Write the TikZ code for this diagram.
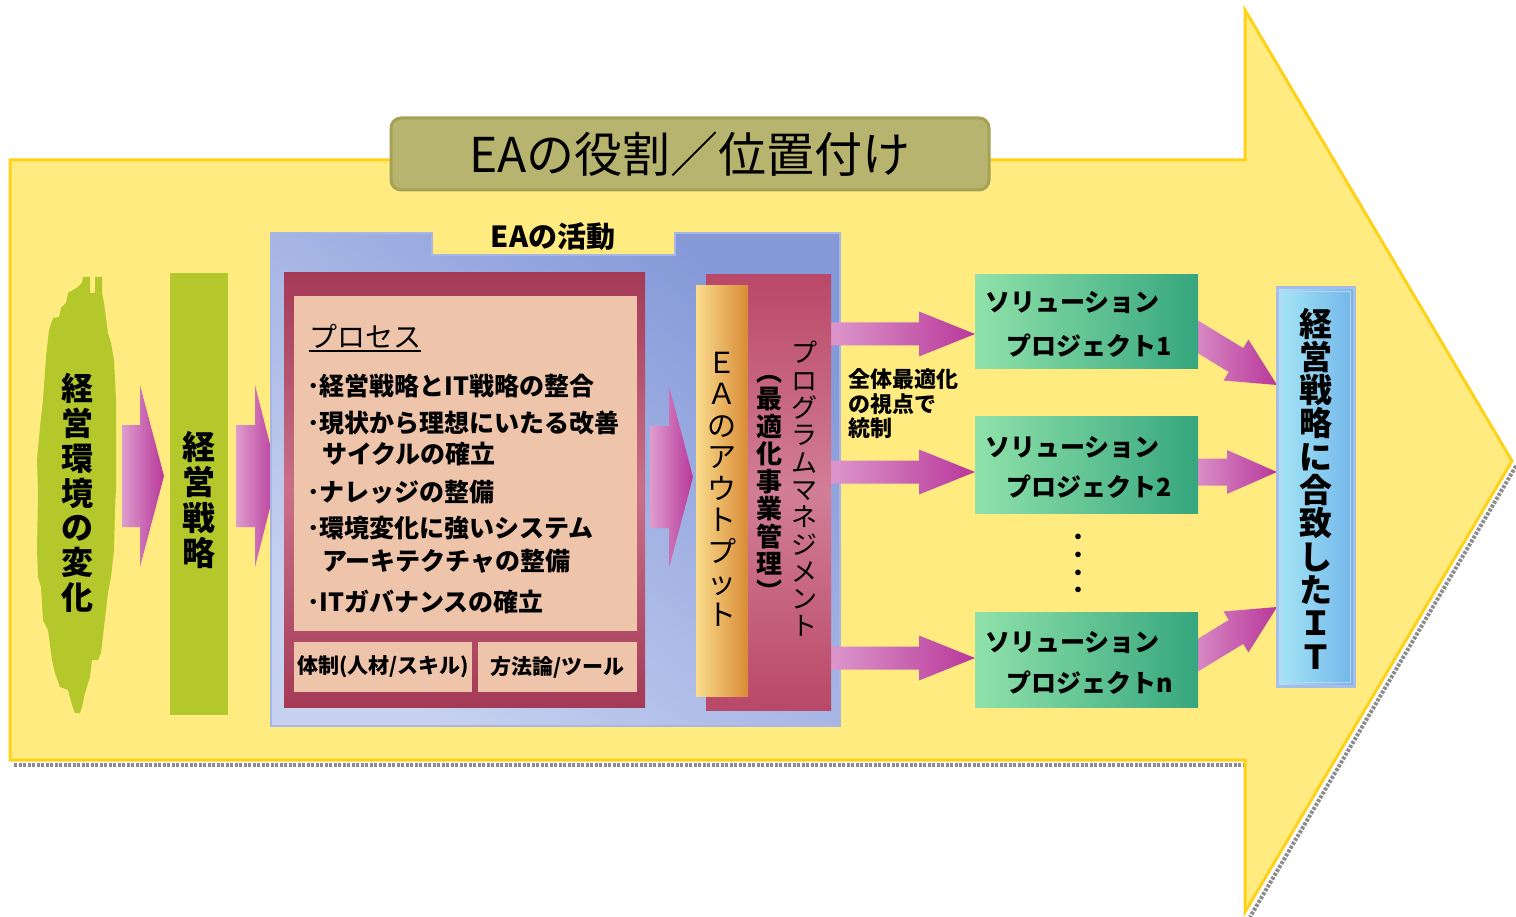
\documentclass[tikz,border=0pt]{standalone}
\usepackage{fontspec}
\setmainfont{Noto Sans CJK JP}
\usetikzlibrary{calc}
\definecolor{arrowfill}{HTML}{FFEB80}
\definecolor{arrowline}{HTML}{FFD21A}
\definecolor{titlefill}{HTML}{B7B46F}
\definecolor{titleline}{HTML}{A5A155}
\definecolor{leaf}{HTML}{B4C82B}
\definecolor{panelA}{HTML}{C7D2F0}
\definecolor{panelB}{HTML}{8599D9}
\definecolor{panelline}{HTML}{A8B6E6}
\definecolor{procA}{HTML}{A43A56}
\definecolor{procB}{HTML}{C97088}
\definecolor{peach}{HTML}{EEC4AA}
\definecolor{pmA}{HTML}{B94868}
\definecolor{pmB}{HTML}{D27E96}
\definecolor{eaL}{HTML}{F9DC8C}
\definecolor{eaR}{HTML}{D98A36}
\definecolor{solL}{HTML}{90E2AA}
\definecolor{solR}{HTML}{36A67E}
\definecolor{itL}{HTML}{A6E6F6}
\definecolor{itR}{HTML}{72B6EA}
\definecolor{itline}{HTML}{A8BCEA}
\definecolor{pkL}{HTML}{DE9CCE}
\definecolor{pkR}{HTML}{B8389A}
\definecolor{shadowgray}{HTML}{8C8C8C}

\newcommand\vfont[2]{\fontsize{#1}{#2}\selectfont\lineskiplimit=-60pt}
% block arrow: #1 from, #2 to, #3 body half width, #4 head half width, #5 head length
\newcommand\blockarr[5]{%
  \path let \p1=(#1), \p2=(#2) in \pgfextra{%
    \pgfmathsetmacro\baangtmp{atan2(\y2-\y1,\x2-\x1)}%
    \pgfmathsetmacro\balentmp{veclen(\x2-\x1,\y2-\y1)}%
    \xdef\baang{\baangtmp}\xdef\balen{\balentmp}\xdef\bax{\x1}\xdef\bay{\y1}};
  \begin{scope}[shift={(\bax,\bay)},rotate=\baang]
    \path[left color=pkL,right color=pkR]
      (0pt,-#3pt) -- ({\balen pt-#5pt},-#3pt) -- ({\balen pt-#5pt},-#4pt)
      -- (\balen pt,0pt) -- ({\balen pt-#5pt},#4pt) -- ({\balen pt-#5pt},#3pt)
      -- (0pt,#3pt) -- cycle;
  \end{scope}}

\begin{document}
\begin{tikzpicture}[x=1pt,y=-1pt,
  vt/.style={align=center,inner sep=0pt,text=black},
  lbl/.style={anchor=west,inner sep=0pt,text=black},
  solbox/.style={rectangle,minimum width=223pt,left color=solL,right color=solR,inner sep=0pt},
  soltxt/.style={lbl,font=\fontsize{25}{27}\selectfont\bfseries},
  proctxt/.style={lbl,font=\fontsize{25}{27}\selectfont\bfseries},
  toolbox/.style={rectangle,fill=peach,minimum height=50pt,inner sep=0pt,font=\fontsize{21}{23}\selectfont\bfseries}
]
\useasboundingbox (0,0) rectangle (1516,917);

% shadow of the big arrow
\draw[shadowgray,line width=4pt,dash pattern=on 3pt off 1.5pt] (14,765) -- (1247,765);
\draw[shadowgray,line width=4pt,dash pattern=on 3pt off 1.5pt] (1516,466) -- (1250,917);
% big arrow
\path[fill=arrowfill,draw=arrowline,line width=3pt,line join=miter]
  (10,160) -- (1245,160) -- (1245,10) -- (1512,461) -- (1245,912) -- (1245,760) -- (10,760) -- cycle;

% title banner
\node[rectangle,rounded corners=10pt,fill=titlefill,draw=titleline,line width=3pt,
  minimum width=598pt,minimum height=72pt,inner sep=0pt,
  font=\fontsize{48}{52}\selectfont] (title) at (690,154) {EAの役割／位置付け};

% green blob
\path[fill=leaf] (83,277) -- (90,277) -- (90,293) -- (95,293) -- (95,277) -- (102,277) -- (102,293)
  -- (104,303) -- (108,333) -- (111,343) -- (114,360) -- (116,400) -- (116,487) -- (115,510)
  -- (114,550) -- (111,577) -- (108,593) -- (104,627) -- (101,653) -- (98,660) -- (92,660)
  -- (90,677) -- (85,693) -- (82,707) -- (80,713) -- (75,713) -- (72,705) -- (68,690)
  -- (60,687) -- (55,673) -- (52,660) -- (48,630) -- (43,620) -- (41,587) -- (38,577)
  -- (37,550) -- (38,493) -- (37,460) -- (40,427) -- (43,400) -- (46,357) -- (49,330)
  -- (53,318) -- (59,317) -- (61,308) -- (66,303) -- (68,293) -- (73,290) -- (78,287)
  -- (82,283) -- cycle;
\node[vt,font=\vfont{32}{34.8}\bfseries] (env) at (77,493) {経\\営\\環\\境\\の\\変\\化};

% strategy bar
\node[rectangle,fill=leaf,minimum width=58pt,minimum height=442pt,inner sep=0pt] (strat) at (199,494) {};
\node[vt,font=\vfont{33}{35.5}\bfseries] (strattxt) at (199,500) {経\\営\\戦\\略};

% arrows on the left
\coordinate (a1s) at (122,476);
\coordinate (a1e) at (164,476);
\coordinate (a2s) at (236,476);
\coordinate (a2e) at (278,476);
\blockarr{a1s}{a1e}{51}{91}{24}
\blockarr{a2s}{a2e}{51}{91}{23}

% EA activity panel
\path[bottom color=panelA,top color=panelB,shading angle=-40,draw=panelline,line width=2pt]
  (271,233) -- (432,233) -- (432,255) -- (675,255) -- (675,233) -- (840,233) -- (840,726) -- (271,726) -- cycle;
\node[inner sep=0pt,font=\fontsize{29}{31}\selectfont\bfseries] (acttitle) at (553,237) {EAの活動};

% process box
\node[rectangle,top color=procA,bottom color=procA,middle color=procB,
  minimum width=361pt,minimum height=434pt,inner sep=0pt] (proc) at (464.5,490) {};
\node[rectangle,fill=peach,minimum width=343pt,minimum height=335pt,inner sep=0pt] (peachbox) at (465.5,463.5) {};
\node[lbl,font=\fontsize{28}{30}\selectfont] (ptitle) at (309,336) {プロセス};
\draw[line width=2.5pt] ([yshift=-4pt]ptitle.base west) -- ([yshift=-4pt]ptitle.base east);
\node[proctxt] (p1) at (307,386) {･経営戦略とIT戦略の整合};
\node[proctxt] (p2) at (307,423) {･現状から理想にいたる改善};
\node[proctxt] (p3) at (322,454) {サイクルの確立};
\node[proctxt] (p4) at (307,492) {･ナレッジの整備};
\node[proctxt] (p5) at (307,528) {･環境変化に強いシステム};
\node[proctxt] (p6) at (322,561) {アーキテクチャの整備};
\node[proctxt] (p7) at (307,602) {･ITガバナンスの確立};
\node[toolbox,minimum width=178pt] (tool1) at (383,667) {体制(人材/スキル)};
\node[toolbox,minimum width=159pt] (tool2) at (557.5,667) {方法論/ツール};

% arrow into EA output
\coordinate (a3s) at (650,477);
\coordinate (a3e) at (693,477);
\blockarr{a3s}{a3e}{51}{91}{24}

% arrows to solution projects
\coordinate (bAs) at (822,334);
\coordinate (bAe) at (975,334);
\coordinate (bBs) at (822,472);
\coordinate (bBe) at (975,472);
\coordinate (bCs) at (822,658);
\coordinate (bCe) at (975,658);
\blockarr{bAs}{bAe}{11.5}{22.5}{56}
\blockarr{bBs}{bBe}{11.5}{22.5}{56}
\blockarr{bCs}{bCe}{11.5}{22.5}{56}

% program management box
\node[rectangle,top color=pmA,bottom color=pmA,middle color=pmB,
  minimum width=125pt,minimum height=435pt,inner sep=0pt] (pm) at (768.5,492.5) {};
\node[vt,font=\vfont{26}{27.3}] (pmtxt) at (804,489) {プ\\ロ\\グ\\ラ\\ム\\マ\\ネ\\ジ\\メ\\ン\\ト};
\node[vt,font=\vfont{26}{27.5}\bfseries] (pmsub) at (769,488) {︵\\最\\適\\化\\事\\業\\管\\理\\︶};

% EA output box
\node[rectangle,left color=eaL,right color=eaR,minimum width=52pt,minimum height=410pt,inner sep=0pt] (ea) at (722,491) {};
\node[vt,font=\vfont{29}{31.5}] (eatxt) at (722,489) {Ｅ\\Ａ\\の\\ア\\ウ\\ト\\プ\\ッ\\ト};

% label between
\node[anchor=west,align=left,inner sep=0pt,font=\fontsize{22}{24.5}\selectfont\bfseries] (ctrl) at (848,404) {全体最適化\\の視点で\\統制};

% arrows to the IT box
\coordinate (cAs) at (1185,329);
\coordinate (cAe) at (1277,385);
\coordinate (cBs) at (1185,472);
\coordinate (cBe) at (1277,472);
\coordinate (cCs) at (1185,663);
\coordinate (cCe) at (1277,607);
\blockarr{cAs}{cAe}{14}{24}{48}
\blockarr{cBs}{cBe}{13.5}{22}{50}
\blockarr{cCs}{cCe}{14}{24}{48}

% solution project boxes
\node[solbox,minimum height=94pt] (sol1) at (1086.5,322) {};
\node[solbox,minimum height=97pt] (sol2) at (1086.5,464.5) {};
\node[solbox,minimum height=95pt] (soln) at (1086.5,659.5) {};
\node[soltxt] (s1a) at (985,303) {ソリューション};
\node[soltxt] (s1b) at (1006,346) {プロジェクト1};
\node[soltxt] (s2a) at (985,447) {ソリューション};
\node[soltxt] (s2b) at (1006,487) {プロジェクト2};
\node[soltxt] (sna) at (985,642) {ソリューション};
\node[soltxt] (snb) at (1006,683) {プロジェクトn};
\node[vt,font=\vfont{20}{17.7}\bfseries] (dots) at (1078,566) {・\\・\\・\\・};

% IT box
\node[rectangle,left color=itL,right color=itR,draw=itline,line width=3pt,
  minimum width=77pt,minimum height=398pt,inner sep=0pt] (itbox) at (1315.5,487) {};
\draw[itline!70,line width=1pt] ([shift={(5pt,-5pt)}]itbox.north west) rectangle ([shift={(-5pt,5pt)}]itbox.south east);
\node[vt,font=\vfont{33}{33.3}\bfseries] (ittxt) at (1316,488.5) {経\\営\\戦\\略\\に\\合\\致\\し\\た\\Ｉ\\Ｔ};
\end{tikzpicture}
\end{document}
